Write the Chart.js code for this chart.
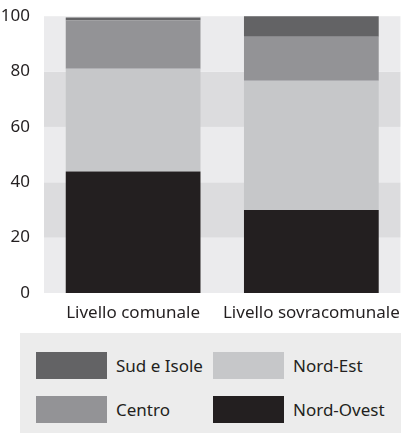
<!DOCTYPE html>
<html>
<head>
<meta charset="utf-8">
<script src="https://cdn.jsdelivr.net/npm/chart.js@4"></script>
<style>
  body { margin: 0; background: #fff; font-family: "Noto Sans", sans-serif; }
  #wrap { position: relative; width: 402px; height: 322px; }
  #legend {
    position: absolute; left: 20px; top: 333px; width: 381px; height: 100px;
    background: #ececec;
  }
  .item { position: absolute; display: flex; align-items: center; font-size: 17px; color: #231f20; }
  .item span.sw { display: inline-block; width: 71px; height: 27px; margin-right: 9px; }
</style>
</head>
<body>
<div id="wrap"><canvas id="chart" width="402" height="322"></canvas></div>
<div id="legend"></div>
<script>
const categories = ["Livello comunale", "Livello sovracomunale"];
const nordOvest = [43.9, 30.0];
const nordEst = [37.1, 46.7];
const centro = [17.5, 15.9];
const sudIsole = [1.0, 7.7];
const yTicks = [0, 20, 40, 60, 80, 100];

const colors = {
  "Nord-Ovest": "#231f20",
  "Nord-Est": "#c6c7c9",
  "Centro": "#939396",
  "Sud e Isole": "#636365",
};

// alternating background bands between the y ticks
const bandsPlugin = {
  id: "bands",
  beforeDraw(chart) {
    const { ctx, chartArea, scales } = chart;
    ctx.save();
    for (let i = 0; i < yTicks.length - 1; i++) {
      const y0 = scales.y.getPixelForValue(yTicks[i]);
      const y1 = scales.y.getPixelForValue(yTicks[i + 1]);
      ctx.fillStyle = i % 2 === 0 ? "#ebebed" : "#dcdcde";
      ctx.fillRect(chartArea.left, y1, chartArea.right - chartArea.left, y0 - y1);
    }
    ctx.restore();
  },
};

const datasets = [
  { label: "Nord-Ovest", data: nordOvest },
  { label: "Nord-Est", data: nordEst },
  { label: "Centro", data: centro },
  { label: "Sud e Isole", data: sudIsole },
].map((d) => ({
  ...d,
  backgroundColor: colors[d.label],
  borderWidth: 0,
  categoryPercentage: 1,
  barPercentage: 0.756,
}));

new Chart(document.getElementById("chart"), {
  type: "bar",
  data: { labels: categories, datasets },
  plugins: [bandsPlugin],
  options: {
    responsive: false,
    animation: false,
    layout: { padding: { top: 16, right: 1, left: 0, bottom: 0 } },
    plugins: { legend: { display: false }, tooltip: { enabled: false } },
    scales: {
      x: {
        stacked: true,
        grid: { display: false },
        border: { display: false },
        ticks: {
          color: "#231f20",
          font: { family: "Noto Sans", size: 17 },
          padding: 2,
          maxRotation: 0,
          autoSkip: false,
        },
        afterFit(scale) { scale.height = 29; },
      },
      y: {
        stacked: true,
        min: 0,
        max: 100,
        grid: { display: false },
        border: { display: false },
        afterBuildTicks(scale) { scale.ticks = yTicks.map((v) => ({ value: v })); },
        ticks: { color: "#231f20", font: { family: "Noto Sans", size: 17 }, padding: 6 },
        afterFit(scale) { scale.width = 44; },
      },
    },
  },
});

// legend, two columns, same order as the reference
const legendOrder = ["Sud e Isole", "Nord-Est", "Centro", "Nord-Ovest"];
const legend = document.getElementById("legend");
legendOrder.forEach((name, i) => {
  const div = document.createElement("div");
  div.className = "item";
  div.style.left = (i % 2 === 0 ? 16 : 193) + "px";
  div.style.top = (i < 2 ? 19 : 63) + "px";
  div.innerHTML = `<span class="sw" style="background:${colors[name]}"></span>${name}`;
  legend.appendChild(div);
});
</script>
</body>
</html>
